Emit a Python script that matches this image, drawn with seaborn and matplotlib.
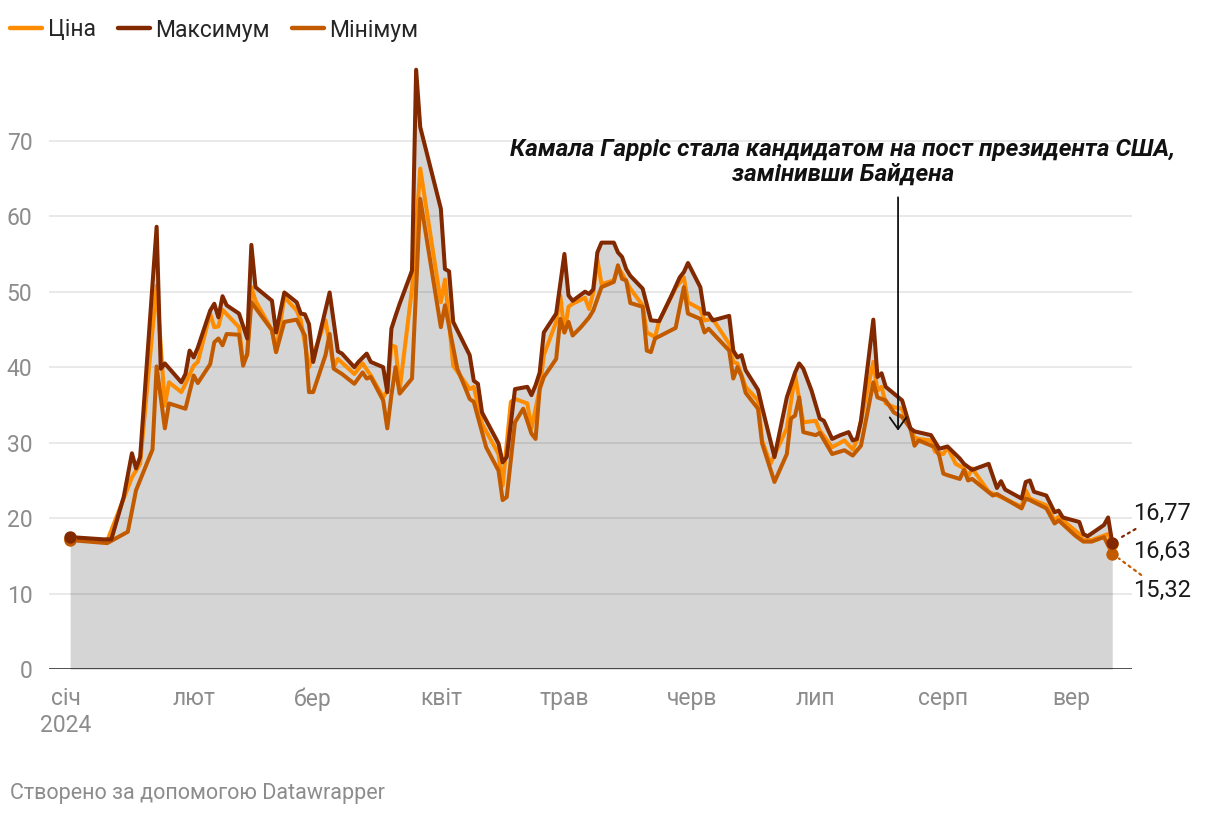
import matplotlib
matplotlib.use("Agg")
import matplotlib.pyplot as plt
import matplotlib.dates as mdates
from matplotlib.lines import Line2D
import seaborn as sns
import pandas as pd

# ---------------- data ----------------
max_dates = ["2024-01-02","2024-01-10","2024-01-12","2024-01-15","2024-01-17","2024-01-18","2024-01-19","2024-01-23","2024-01-24","2024-01-25","2024-01-29","2024-01-30","2024-01-31",
             "2024-02-01","2024-02-02","2024-02-05","2024-02-06","2024-02-07","2024-02-08","2024-02-09","2024-02-12","2024-02-14","2024-02-15","2024-02-16","2024-02-20","2024-02-21","2024-02-23","2024-02-26","2024-02-27","2024-02-28","2024-02-29",
             "2024-03-01","2024-03-03","2024-03-05","2024-03-07","2024-03-08","2024-03-11","2024-03-12","2024-03-14","2024-03-15","2024-03-18","2024-03-19","2024-03-20","2024-03-21","2024-03-22","2024-03-25","2024-03-26","2024-03-27",
             "2024-04-01","2024-04-02","2024-04-03","2024-04-04","2024-04-08","2024-04-09","2024-04-10","2024-04-11","2024-04-15","2024-04-16","2024-04-17","2024-04-19","2024-04-22","2024-04-23","2024-04-24","2024-04-25","2024-04-26","2024-04-29",
             "2024-05-01","2024-05-02","2024-05-03","2024-05-06","2024-05-07","2024-05-08","2024-05-09","2024-05-10","2024-05-13","2024-05-14","2024-05-15","2024-05-16","2024-05-17","2024-05-20","2024-05-22","2024-05-24","2024-05-27","2024-05-29","2024-05-30","2024-05-31",
             "2024-06-03","2024-06-04","2024-06-05","2024-06-06","2024-06-10","2024-06-11","2024-06-12","2024-06-13","2024-06-14","2024-06-17","2024-06-18","2024-06-21","2024-06-24","2024-06-26","2024-06-27","2024-06-28","2024-06-30",
             "2024-07-02","2024-07-03","2024-07-05","2024-07-07","2024-07-09","2024-07-10","2024-07-11","2024-07-12","2024-07-15","2024-07-16","2024-07-17","2024-07-18","2024-07-20","2024-07-22","2024-07-24","2024-07-25","2024-07-29","2024-07-31",
             "2024-08-02","2024-08-05","2024-08-06","2024-08-08","2024-08-12","2024-08-14","2024-08-15","2024-08-16","2024-08-20","2024-08-21","2024-08-22","2024-08-23","2024-08-26","2024-08-28","2024-08-29","2024-08-30",
             "2024-09-03","2024-09-04","2024-09-05","2024-09-09","2024-09-10","2024-09-11"]
max_values = [17.5,17.2,17.2,22.8,28.6,26.6,28.1,58.6,39.8,40.5,38.0,39.1,42.2,
              41.3,42.6,47.5,48.4,46.6,49.4,48.2,47.1,43.8,56.2,50.6,48.8,44.6,49.9,48.6,47.1,47.0,45.7,
              40.7,45.3,49.9,42.1,41.8,40.0,40.7,41.8,40.7,40.0,36.7,45.1,46.8,48.4,52.8,79.4,71.8,
              61.0,53.0,52.7,46.0,41.6,38.2,37.8,34.0,29.9,27.4,28.1,37.1,37.4,36.3,37.6,39.3,44.6,47.1,
              55.0,49.5,48.8,50.0,49.7,50.3,55.2,56.5,56.5,55.2,54.6,53.0,52.1,50.4,46.2,46.1,49.5,51.9,52.6,53.8,
              50.6,47.1,47.1,46.2,46.8,42.2,41.3,41.6,39.6,37.0,34.7,28.1,36.0,39.3,40.5,39.8,36.9,
              33.2,32.9,30.5,31.0,31.4,30.3,30.5,32.9,46.3,38.7,39.2,37.4,36.5,35.6,31.9,31.5,31.0,29.2,
              29.5,27.9,27.2,26.4,27.2,24.0,24.9,23.8,22.6,24.8,25.0,23.5,23.0,20.8,21.0,20.1,
              19.5,17.9,17.6,19.1,20.1,16.77]

price_dates = ["2024-01-02","2024-01-11","2024-01-17","2024-01-19","2024-01-23","2024-01-25","2024-01-26","2024-01-29","2024-01-30",
               "2024-02-01","2024-02-02","2024-02-05","2024-02-06","2024-02-07","2024-02-08","2024-02-12","2024-02-13","2024-02-14","2024-02-15","2024-02-16","2024-02-20","2024-02-21","2024-02-23","2024-02-26","2024-02-27","2024-02-29",
               "2024-03-04","2024-03-06","2024-03-07","2024-03-11","2024-03-13","2024-03-15","2024-03-18","2024-03-19","2024-03-20","2024-03-21","2024-03-22","2024-03-25","2024-03-27",
               "2024-04-01","2024-04-02","2024-04-04","2024-04-08","2024-04-09","2024-04-11","2024-04-15","2024-04-16","2024-04-18","2024-04-19","2024-04-22","2024-04-23","2024-04-25","2024-04-26","2024-04-29","2024-04-30",
               "2024-05-01","2024-05-02","2024-05-03","2024-05-06","2024-05-07","2024-05-08","2024-05-09","2024-05-10","2024-05-13","2024-05-14","2024-05-15","2024-05-17","2024-05-20","2024-05-21","2024-05-23","2024-05-24","2024-05-28","2024-05-30","2024-05-31",
               "2024-06-03","2024-06-04","2024-06-06","2024-06-10","2024-06-11","2024-06-12","2024-06-14","2024-06-17","2024-06-18","2024-06-20","2024-06-24","2024-06-26","2024-06-28",
               "2024-07-01","2024-07-02","2024-07-05","2024-07-08","2024-07-10","2024-07-11","2024-07-15","2024-07-16","2024-07-17","2024-07-18","2024-07-20","2024-07-22","2024-07-23","2024-07-25","2024-07-26","2024-07-29","2024-07-30",
               "2024-08-01","2024-08-02","2024-08-04","2024-08-06","2024-08-07","2024-08-08","2024-08-12","2024-08-15","2024-08-20","2024-08-21","2024-08-22","2024-08-26","2024-08-28","2024-08-29",
               "2024-09-03","2024-09-04","2024-09-06","2024-09-10","2024-09-11"]
price_values = [17.3,17.0,25.4,27.2,50.8,34.9,38.0,36.7,37.8,
                40.2,40.7,47.1,45.3,45.4,47.6,45.3,40.5,41.6,50.6,48.8,44.9,42.0,49.3,47.5,46.2,40.0,
                46.2,40.0,41.1,39.1,40.5,38.9,36.0,36.9,42.9,42.7,37.0,50.4,66.3,
                48.6,51.6,40.2,37.1,37.4,32.5,28.5,24.3,35.4,35.8,35.2,31.9,37.1,41.6,46.0,49.5,
                44.6,48.0,48.4,49.2,47.7,49.9,54.3,51.0,51.5,53.2,52.4,50.4,48.2,44.6,44.0,46.1,50.5,51.9,48.6,
                47.7,46.2,46.4,43.1,40.7,40.5,37.4,35.6,30.3,27.2,31.9,38.9,32.7,
                32.9,31.6,29.4,30.3,29.1,30.3,40.7,36.9,37.4,35.2,34.7,34.5,32.9,30.7,30.5,30.3,28.8,
                28.5,29.4,27.2,26.6,25.5,26.6,23.5,22.8,21.5,23.7,22.6,21.7,19.7,20.2,
                17.9,17.1,17.1,17.9,16.63]

min_dates = ["2024-01-02","2024-01-11","2024-01-16","2024-01-18","2024-01-22","2024-01-23","2024-01-25","2024-01-26","2024-01-30",
             "2024-02-01","2024-02-02","2024-02-05","2024-02-06","2024-02-07","2024-02-08","2024-02-09","2024-02-12","2024-02-13","2024-02-14","2024-02-15","2024-02-20","2024-02-21","2024-02-23","2024-02-26","2024-02-28","2024-02-29",
             "2024-03-01","2024-03-04","2024-03-05","2024-03-06","2024-03-08","2024-03-11","2024-03-13","2024-03-14","2024-03-15","2024-03-18","2024-03-19","2024-03-20","2024-03-21","2024-03-22","2024-03-25","2024-03-27",
             "2024-04-01","2024-04-02","2024-04-05","2024-04-08","2024-04-09","2024-04-12","2024-04-15","2024-04-16","2024-04-17","2024-04-19","2024-04-21","2024-04-23","2024-04-24","2024-04-25","2024-04-26","2024-04-29","2024-04-30",
             "2024-05-01","2024-05-02","2024-05-03","2024-05-05","2024-05-07","2024-05-08","2024-05-10","2024-05-13","2024-05-14","2024-05-15","2024-05-16","2024-05-17","2024-05-20","2024-05-21","2024-05-22","2024-05-23","2024-05-28","2024-05-30","2024-05-31",
             "2024-06-03","2024-06-04","2024-06-05","2024-06-10","2024-06-11","2024-06-12","2024-06-13","2024-06-14","2024-06-17","2024-06-18","2024-06-21","2024-06-24","2024-06-25","2024-06-26","2024-06-27","2024-06-28",
             "2024-07-01","2024-07-02","2024-07-05","2024-07-08","2024-07-10","2024-07-12","2024-07-15","2024-07-16","2024-07-18","2024-07-20","2024-07-22","2024-07-24","2024-07-25","2024-07-26","2024-07-30","2024-07-31",
             "2024-08-01","2024-08-02","2024-08-05","2024-08-06","2024-08-07","2024-08-08","2024-08-13","2024-08-14","2024-08-20","2024-08-21","2024-08-22","2024-08-26","2024-08-28","2024-08-29",
             "2024-09-02","2024-09-04","2024-09-06","2024-09-09","2024-09-11"]
min_values = [17.1,16.7,18.2,23.7,29.1,40.1,31.9,35.2,34.5,
              38.9,37.9,40.4,43.3,43.8,42.9,44.4,44.3,40.2,41.8,48.6,44.9,42.0,46.0,46.3,44.2,36.7,
              36.7,41.6,44.4,39.8,39.1,37.8,39.3,38.5,38.7,35.6,31.9,36.3,40.0,36.5,38.5,62.3,
              45.3,48.2,39.8,35.8,35.4,29.4,26.3,22.4,22.8,32.7,34.5,31.2,30.5,37.1,38.7,41.1,46.4,
              44.6,46.0,44.2,45.3,46.6,47.5,50.6,51.3,53.5,51.7,51.5,48.5,48.0,42.2,42.0,43.8,45.2,50.6,47.1,
              46.4,44.6,45.1,42.2,38.5,40.0,38.8,36.6,34.5,29.9,24.8,28.5,33.2,33.6,36.0,31.4,
              31.0,31.3,28.5,29.0,28.3,29.6,38.0,36.0,35.6,34.0,33.4,31.9,29.6,30.3,29.4,28.3,
              25.9,25.7,25.2,26.4,25.0,25.2,23.0,23.2,21.3,22.6,22.4,21.3,19.3,19.7,
              17.7,16.9,16.9,17.5,15.32]

series_names = ["Ціна", "Максимум", "Мінімум"]
month_ticks = ["2024-01-01","2024-02-01","2024-03-01","2024-04-01","2024-05-01","2024-06-01","2024-07-01","2024-08-01","2024-09-01"]
month_labels = ["січ\n2024","лют","бер","квіт","трав","черв","лип","серп","вер"]
y_ticks = [0, 10, 20, 30, 40, 50, 60, 70]
end_labels = ["16,63", "16,77", "15,32"]
event_date = "2024-07-21"
event_text = "Камала Гарріс стала кандидатом на пост президента США,\nзамінивши Байдена"
footer = "Створено за допомогою Datawrapper"

# ---------------- style ----------------
sns.set_theme(style="white")
plt.rcParams['font.family'] = ['Roboto', 'DejaVu Sans']

c_price = "#fd8c00"
c_max = "#832900"
c_min = "#c25b00"
c_fill = "#d5d5d5"
c_tick = "#8c8c8c"

df_max = pd.DataFrame({"date": pd.to_datetime(max_dates), "v": max_values})
df_price = pd.DataFrame({"date": pd.to_datetime(price_dates), "v": price_values})
df_min = pd.DataFrame({"date": pd.to_datetime(min_dates), "v": min_values})

fig = plt.figure(figsize=(12.2, 8.16), dpi=100)
ax = fig.add_axes([49/1220, 1 - 669.2/816, (1132-49)/1220, (669.2-65.2)/816])

ax.fill_between(df_max["date"], df_max["v"], 0, color=c_fill, lw=0, zorder=1)

lw = 2.9
kw = dict(solid_capstyle="round", solid_joinstyle="round", zorder=4)
sns.lineplot(data=df_price, x="date", y="v", ax=ax, color=c_price, lw=lw, label=series_names[0], **kw)
sns.lineplot(data=df_min, x="date", y="v", ax=ax, color=c_min, lw=lw, label=series_names[2], **kw)
sns.lineplot(data=df_max, x="date", y="v", ax=ax, color=c_max, lw=lw, label=series_names[1], **kw)

# start / end dots
for df, c in [(df_price, c_price), (df_min, c_min), (df_max, c_max)]:
    ax.scatter([df["date"].iloc[0], df["date"].iloc[-1]], [df["v"].iloc[0], df["v"].iloc[-1]],
               s=80, color=c, zorder=6, linewidths=0)

# grid
for yv in y_ticks[1:]:
    ax.axhline(yv, color="black", alpha=0.1, lw=1.2, zorder=2)
ax.axhline(0, color="#1a1a1a", lw=1.8, zorder=5)

t0 = mdates.date2num(pd.Timestamp("2024-01-01"))
ax.set_xlim(t0 - 4.13, t0 + 258.8)
ax.set_ylim(0, 80)
ax.set_yticks(y_ticks)
ax.set_yticklabels([str(v) for v in y_ticks])
ax.set_xticks(pd.to_datetime(month_ticks))
ax.set_xticklabels(month_labels)
ax.tick_params(axis="x", length=0, pad=13, labelsize=16.5, colors=c_tick)
ax.tick_params(axis="y", length=0, pad=12, labelsize=16.5, colors=c_tick)
for s in ax.spines.values():
    s.set_visible(False)
ax.set_xlabel("")
ax.set_ylabel("")
ax.grid(False)

# end labels
end_date = df_max["date"].iloc[-1]
ax.annotate(end_labels[1], xy=(end_date, df_max["v"].iloc[-1]), xytext=(21, 29), textcoords="offset pixels",
            ha="left", va="center", fontsize=17, color="#1a1a1a",
            arrowprops=dict(arrowstyle="-", ls=(0, (1, 2)), color=c_max, lw=1.6, shrinkA=1, shrinkB=6))
ax.annotate(end_labels[0], xy=(end_date, df_price["v"].iloc[-1]), xytext=(21, -8), textcoords="offset pixels",
            ha="left", va="center", fontsize=17, color="#1a1a1a")
ax.annotate(end_labels[2], xy=(end_date, df_min["v"].iloc[-1]), xytext=(21, -37), textcoords="offset pixels",
            ha="left", va="center", fontsize=17, color="#1a1a1a",
            arrowprops=dict(arrowstyle="-", ls=(0, (1, 2)), color=c_min, lw=1.6, shrinkA=1, shrinkB=6))

# event annotation
ev = pd.Timestamp(event_date)
ax.annotate("", xy=(ev, 31.6), xytext=(ev, 62.5),
            arrowprops=dict(arrowstyle="->,head_length=0.7,head_width=0.5", color="#111111", lw=1.3,
                            shrinkA=0, shrinkB=0), zorder=7)
ax.text(t0 + 188.6, 67.2, event_text, ha="center", va="center", fontsize=17.5,
        fontweight="bold", style="italic", color="#111111", zorder=7, linespacing=1.1)

# legend
h, l = ax.get_legend_handles_labels()
if ax.legend_:
    ax.legend_.remove()
hd = {lab: hh for hh, lab in zip(h, l)}
handles = [Line2D([0], [0], color=hd[n].get_color(), lw=3.2, solid_capstyle="round") for n in series_names]
fig.legend(handles, series_names, loc="center left", bbox_to_anchor=(10/1220, 1 - 30/816),
           ncol=3, frameon=False, fontsize=16.5, handlelength=1.4, handletextpad=0.25,
           columnspacing=0.95, borderpad=0, borderaxespad=0)

fig.text(10/1220, 1 - 793/816, footer, ha="left", va="center", fontsize=15.5, color="#8c8c8c")

fig.savefig("out.png", dpi=100)
